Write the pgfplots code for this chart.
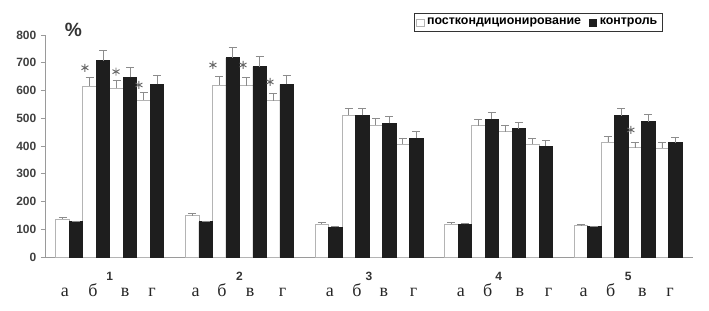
\documentclass[border=0pt]{standalone}
\usepackage{fontspec}
\setmainfont{Liberation Serif}
\setsansfont{Liberation Sans}
\usepackage{pgfplots}
\pgfplotsset{compat=1.18}
\usepackage{pgfplotstable}
\definecolor{barblack}{HTML}{1E1E1E}
\definecolor{barline}{HTML}{B4B4B4}
\definecolor{errgray}{HTML}{8C8C8C}
\definecolor{axgray}{HTML}{9A9A9A}
\pgfplotstableread{
x val err
1.3 137 5
3.3 616 32
5.3 608 30
7.3 566 26
10.9 149 8
12.9 620 30
14.9 617 31
16.9 563 27
20.5 119 4
22.5 510 26
24.5 475 25
26.5 406 23
30.1 119 4
32.1 473 24
34.1 452 24
36.1 406 22
39.7 113 3
41.7 413 21
43.7 394 19
45.7 392 20
}\postcond
\pgfplotstableread{
x val err
2.3 127 3
4.3 707 36
6.3 647 35
8.3 622 34
11.9 127 3
13.9 718 36
15.9 686 37
17.9 622 34
21.5 107 3
23.5 510 25
25.5 482 26
27.5 428 24
31.1 118 3
33.1 496 25
35.1 462 23
37.1 400 19
40.7 109 3
42.7 509 27
44.7 488 26
46.7 412 19
}\control
\begin{document}
\begin{tikzpicture}
\path[use as bounding box] (-33.75pt,-39.75pt) rectangle (498pt,192.75pt);
\begin{axis}[
  at={(0,0)}, anchor=south west,
  scale only axis, width=486pt, height=166.5pt,
  xmin=0, xmax=48, ymin=0, ymax=800,
  axis x line*=bottom, axis y line*=left,
  axis line style={axgray, line width=0.6pt},
  clip=false,
  ybar, bar width=1, 
  ytick={0,100,...,800},
  yticklabel style={font=\sffamily\bfseries\small, text=black!75},
  /pgf/number format/assume math mode=true,
  ytick style={axgray, line width=0.6pt},
  tick align=outside,
  major tick length=3pt,
  xtick={4.8,14.4,24,33.6,43.2},
  xticklabels={1,2,3,4,5},
  xtick style={draw=none},
  xticklabel style={font=\sffamily\bfseries\small, text=black!80, yshift=-5pt},
  minor xtick={0,9.6,19.2,28.8,38.4,48},
  minor x tick style={axgray, line width=0.6pt},
  minor tick length=3pt,
  extra x ticks={1.48,3.56,5.93,7.93,11.15,13.1,15.2,17.6,21.1,23.1,25.1,27.3,30.8,32.8,35.17,37.3,39.9,41.9,44.25,46.3},
  extra x tick labels={а,б,в,г,а,б,в,г,а,б,в,г,а,б,в,г,а,б,в,г},
  extra x tick style={major tick length=0pt, tick style={draw=none},
    xticklabel style={font=\rmfamily\mdseries\fontsize{13.5}{13.5}\selectfont, text=black!85,
      text height=1.6ex, text depth=0.2ex, yshift=-14pt}},
  legend style={at={(0.761,1.056)}, anchor=center, draw=black!80, line width=0.7pt,
    font=\sffamily\bfseries\fontsize{9.3}{10}\selectfont, legend columns=2, inner sep=1.5pt,
    /tikz/every even column/.append style={column sep=4pt}},
  legend image code/.code={\draw[#1, bar width=1] (0pt,-2.6pt) rectangle (5.5pt,2.6pt);},
  error bars/error bar style={errgray, line width=0.6pt},
  error bars/error mark options={rotate=90, mark size=3pt, errgray, line width=0.6pt},
]
\addplot[fill=white, draw=barline, line width=0.6pt, bar shift=0pt,
  error bars/.cd, y dir=plus, y explicit]
  table[x=x, y=val, y error=err] {\postcond};
\addlegendentry{посткондиционирование}
\addplot[fill=barblack, draw=barblack, line width=0.6pt, bar shift=0pt,
  error bars/.cd, y dir=plus, y explicit]
  table[x=x, y=val, y error=err] {\control};
\addlegendentry{контроль}
\addplot[only marks, mark=asterisk, mark size=3pt, draw=black!60, line width=0.7pt, forget plot]
  coordinates {(2.96,682) (5.26,668) (6.96,620) (12.44,692) (14.67,692) (16.67,631) (43.4,458)};
\node[font=\sffamily\bfseries\Large, text=black!80] at (axis cs:2.1,820) {\%};
\end{axis}
\end{tikzpicture}
\end{document}
